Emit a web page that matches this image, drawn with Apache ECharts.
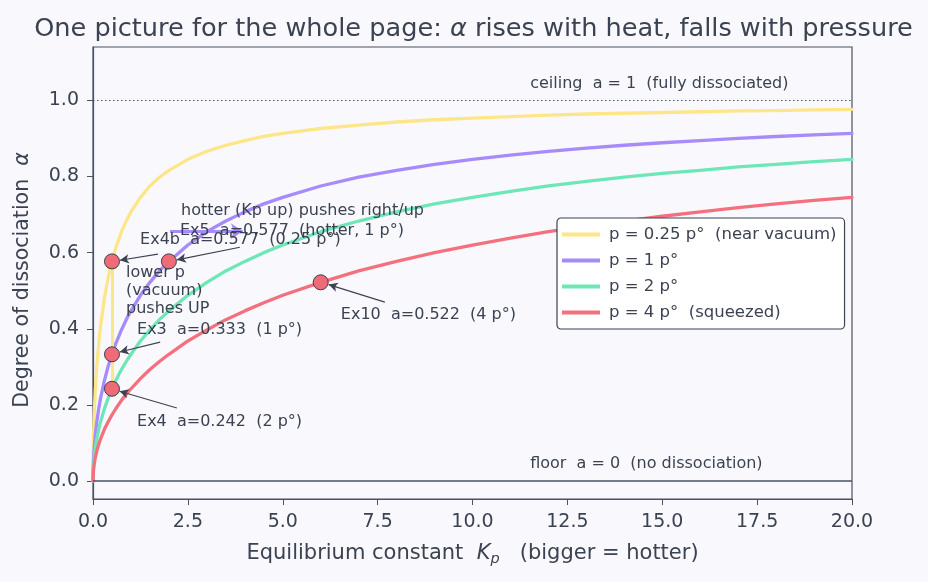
<!DOCTYPE html>
<html>
<head>
<meta charset="utf-8">
<script src="https://cdn.jsdelivr.net/npm/echarts@6/dist/echarts.min.js"></script>
<style>
  html, body { margin: 0; padding: 0; background: #f9f9fd; }
  #chart { width: 928px; height: 582px; }
</style>
</head>
<body>
<div id="chart"></div>
<script>
// Kp samples and alpha
const kp = [0, 0.01, 0.03, 0.06, 0.1, 0.15, 0.2, 0.3, 0.4, 0.5, 0.6, 0.75, 0.9, 1, 1.25, 1.5, 1.75, 2, 2.5, 3, 3.5, 4, 4.5, 5, 6, 7, 8, 9, 10, 11, 12, 13, 14, 15, 16, 17, 18, 19, 20]
const alphaQuarter = [0, 0.0995, 0.171, 0.238, 0.3015, 0.361, 0.408, 0.480, 0.5345, 0.577, 0.612, 0.655, 0.688, 0.707, 0.745, 0.775, 0.798, 0.816, 0.845, 0.866, 0.882, 0.894, 0.905, 0.913, 0.926, 0.935, 0.943, 0.949, 0.953, 0.957, 0.961, 0.964, 0.966, 0.968, 0.970, 0.972, 0.973, 0.975, 0.976]
const alphaOne = [0, 0.050, 0.086, 0.122, 0.156, 0.190, 0.218, 0.264, 0.3015, 0.333, 0.361, 0.397, 0.429, 0.447, 0.488, 0.522, 0.552, 0.577, 0.620, 0.655, 0.683, 0.707, 0.728, 0.745, 0.775, 0.798, 0.816, 0.832, 0.845, 0.856, 0.866, 0.8745, 0.882, 0.8885, 0.894, 0.900, 0.905, 0.909, 0.913]
const alphaTwo = [0, 0.035, 0.061, 0.086, 0.111, 0.136, 0.156, 0.190, 0.218, 0.2425, 0.264, 0.293, 0.318, 0.333, 0.368, 0.397, 0.424, 0.447, 0.488, 0.522, 0.552, 0.577, 0.600, 0.620, 0.655, 0.683, 0.707, 0.728, 0.745, 0.761, 0.775, 0.787, 0.798, 0.808, 0.816, 0.825, 0.832, 0.839, 0.845]
const alphaFour = [0, 0.025, 0.043, 0.061, 0.079, 0.096, 0.111, 0.136, 0.156, 0.174, 0.190, 0.212, 0.231, 0.2425, 0.269, 0.293, 0.314, 0.333, 0.368, 0.397, 0.424, 0.447, 0.4685, 0.488, 0.522, 0.552, 0.577, 0.600, 0.620, 0.638, 0.655, 0.6695, 0.683, 0.6955, 0.707, 0.718, 0.728, 0.737, 0.745]

const seriesNames = ['p = 0.25 p°  (near vacuum)', 'p = 1 p°', 'p = 2 p°', 'p = 4 p°  (squeezed)']
const seriesColors = ['#fde68a', '#a78bfa', '#6ee7b7', '#f5707f']

// worked examples: [Kp, alpha]
const examplePoints = [[0.5, 0.577], [2, 0.577], [0.5, 0.333], [0.5, 0.2425], [6, 0.522]]

// notes: [Kp, alpha, text]
const notes = [
  [2.32, 0.711, 'hotter (Kp up) pushes right/up'],
  [2.29, 0.656, 'Ex5  a=0.577  (hotter, 1 p°)'],
  [1.24, 0.633, 'Ex4b  a=0.577  (0.25 p°)'],
  [0.87, 0.499, 'lower p\n(vacuum)\npushes UP'],
  [1.16, 0.396, 'Ex3  a=0.333  (1 p°)'],
  [1.16, 0.155, 'Ex4  a=0.242  (2 p°)'],
  [6.53, 0.436, 'Ex10  a=0.522  (4 p°)'],
  [11.52, 1.042, 'ceiling  a = 1  (fully dissociated)'],
  [11.52, 0.045, 'floor  a = 0  (no dissociation)']
]

// pointer arrows: from text to example point
const pointerArrows = [
  [[1.71, 0.596], [0.71, 0.580]],
  [[3.87, 0.614], [2.21, 0.581]],
  [[1.77, 0.365], [0.706, 0.339]],
  [[2.21, 0.192], [0.70, 0.236]],
  [[7.69, 0.470], [6.21, 0.516]]
]
// trend arrows
const heatArrow = [[2.03, 0.656], [3.95, 0.656]]
const pressureArrow = [[0.5, 0.2425], [0.5, 0.577]]

const yTicks = [0, 0.2, 0.4, 0.6, 0.8, 1.0]
const ink = '#3b4252'
const font = 'DejaVu Sans'

const chart = echarts.init(document.getElementById('chart'), null, { renderer: 'canvas' })

const curveSeries = [alphaQuarter, alphaOne, alphaTwo, alphaFour].map((vals, i) => ({
  name: seriesNames[i],
  type: 'line',
  data: kp.map((k, j) => [k, vals[j]]),
  showSymbol: false,
  smooth: false,
  lineStyle: { width: 3.3, color: seriesColors[i], join: 'round', cap: 'round' },
  itemStyle: { color: seriesColors[i] },
  z: 3
}))

const option = {
  backgroundColor: '#f9f9fd',
  animation: false,
  textStyle: { fontFamily: font, color: ink },
  title: {
    text: 'One picture for the whole page: {a|α} rises with heat, falls with pressure',
    left: 468.5,
    textAlign: 'center',
    top: 11,
    padding: 5,
    textStyle: {
      fontFamily: font,
      fontSize: 25.6,
      fontWeight: 'normal',
      color: ink,
      rich: { a: { fontFamily: font, fontSize: 25.6, fontStyle: 'italic', color: ink } }
    }
  },
  legend: {
    data: seriesNames,
    orient: 'vertical',
    left: 557,
    top: 218,
    icon: 'rect',
    itemWidth: 38,
    itemHeight: 4,
    itemGap: 9,
    padding: [8, 8, 8, 5],
    backgroundColor: '#ffffff',
    borderColor: ink,
    borderWidth: 1.2,
    borderRadius: 4,
    textStyle: { fontFamily: font, fontSize: 16.5, color: ink, padding: [0, 0, 0, 4] }
  },
  grid: {
    left: 93,
    right: 76,
    top: 47,
    bottom: 83,
    show: true,
    borderColor: '#4a5060',
    borderWidth: 1.2,
    backgroundColor: 'transparent'
  },
  xAxis: {
    type: 'value',
    min: 0,
    max: 20,
    interval: 2.5,
    name: 'Equilibrium constant  {i|K}{s|p}   (bigger = hotter)',
    nameLocation: 'middle',
    nameGap: 42,
    nameTextStyle: {
      fontFamily: font,
      fontSize: 21,
      color: ink,
      rich: {
        i: { fontFamily: font, fontSize: 21, fontStyle: 'italic', color: ink },
        s: { fontFamily: font, fontSize: 14.5, fontStyle: 'italic', color: ink, padding: [11, 0, 0, 0] }
      }
    },
    axisLine: { show: true, onZero: false, lineStyle: { color: '#4a5060', width: 1.2 } },
    axisTick: { show: true, length: 6, lineStyle: { color: '#4a5060' } },
    axisLabel: { fontFamily: font, fontSize: 19, color: ink, margin: 14, formatter: v => v.toFixed(1) },
    splitLine: { show: false }
  },
  yAxis: {
    type: 'value',
    min: -0.047,
    max: 1.14,
    name: 'Degree of dissociation  {a|α}',
    nameLocation: 'middle',
    nameGap: 60,
    nameTextStyle: {
      fontFamily: font,
      fontSize: 20.5,
      color: ink,
      padding: [0, 14, 0, 0],
      rich: { a: { fontFamily: font, fontSize: 20.5, fontStyle: 'italic', color: ink } }
    },
    axisLine: { show: true, lineStyle: { color: '#4a5060', width: 1.2 } },
    axisTick: { show: true, length: 6, customValues: yTicks, lineStyle: { color: '#4a5060' } },
    axisLabel: { fontFamily: font, fontSize: 19, color: ink, margin: 14, customValues: yTicks, formatter: v => v.toFixed(1) },
    splitLine: { show: false }
  },
  series: [
    ...curveSeries,
    {
      name: 'guides',
      type: 'line',
      data: [],
      z: 2,
      markLine: {
        silent: true,
        symbol: ['none', 'none'],
        label: { show: false },
        data: [
          { yAxis: 1, lineStyle: { type: [1.5, 2.5], color: '#4a5060', width: 1 } },
          { yAxis: 0, lineStyle: { type: 'solid', color: '#4a5060', width: 1.6 } }
        ]
      }
    },
    {
      name: 'trends',
      type: 'line',
      data: [],
      z: 4,
      markLine: {
        silent: true,
        symbol: ['none', 'arrow'],
        symbolSize: [12, 12],
        label: { show: false },
        data: [
          [
            { coord: heatArrow[0], lineStyle: { color: '#a78bfa', width: 3, type: 'solid' } },
            { coord: heatArrow[1] }
          ],
          [
            { coord: pressureArrow[0], lineStyle: { color: '#fde68a', width: 3, type: 'solid' } },
            { coord: pressureArrow[1], symbolSize: 8 }
          ]
        ]
      }
    },
    {
      name: 'pointers',
      type: 'line',
      data: [],
      z: 5,
      markLine: {
        silent: true,
        symbol: ['none', 'arrow'],
        symbolSize: [7, 9],
        label: { show: false },
        lineStyle: { color: ink, width: 1.1, type: 'solid' },
        data: pointerArrows.map(a => [{ coord: a[0] }, { coord: a[1] }])
      }
    },
    {
      name: 'examples',
      type: 'scatter',
      data: examplePoints,
      symbol: 'circle',
      symbolSize: 15,
      itemStyle: { color: '#f06b78', borderColor: '#3a3f4b', borderWidth: 1, opacity: 1 },
      z: 6
    },
    {
      name: 'notes',
      type: 'scatter',
      data: notes.map(n => ({ value: [n[0], n[1]], label: { formatter: n[2] } })),
      symbolSize: 0,
      silent: true,
      z: 7,
      itemStyle: { opacity: 1 },
      label: {
        show: true,
        position: [0, 0],
        align: 'left',
        verticalAlign: 'middle',
        fontFamily: font,
        fontSize: 16,
        lineHeight: 18,
        color: ink,
        opacity: 1
      }
    }
  ]
}

chart.setOption(option)
</script>
</body>
</html>
